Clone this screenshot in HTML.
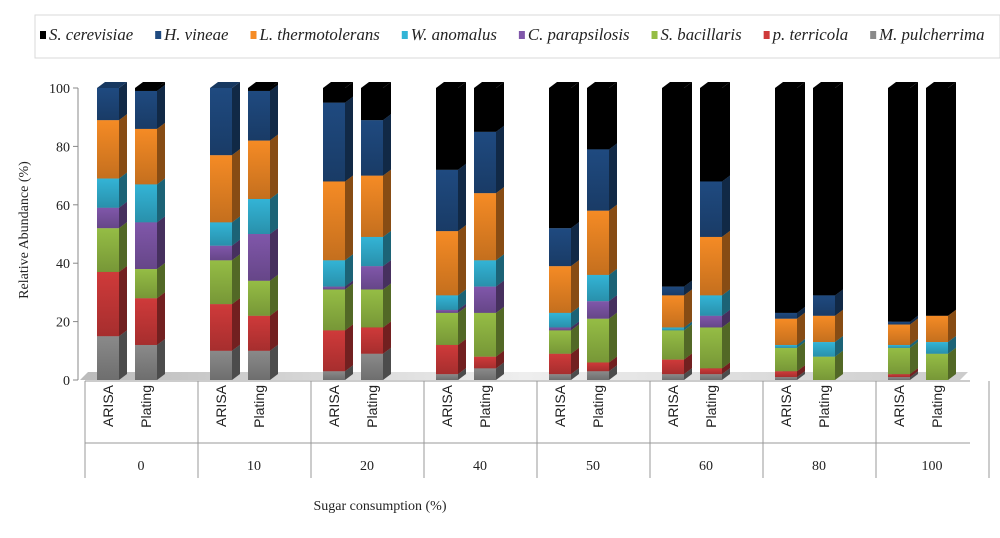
<!DOCTYPE html>
<html><head><meta charset="utf-8"><style>
body{margin:0;background:#fff;}
</style></head><body>
<svg id="c" width="1000" height="533" viewBox="0 0 1000 533" font-family="Liberation Serif, serif">
<defs>
<linearGradient id="floorG" x1="0" x2="1"><stop offset="0" stop-color="#bbb"/><stop offset="0.5" stop-color="#eee"/><stop offset="1" stop-color="#ccc"/></linearGradient>
</defs>
<rect x="35" y="15" width="965" height="43" fill="#fff" stroke="#d9d9d9"/>
<g id="legend"></g>
<g id="axis"></g>
<polygon points="80,380 88,372 968,372 960,380" fill="url(#floorG)"/>
<g id="bars"></g>
<g id="cats"></g>
<text x="28" y="230" transform="rotate(-90 28 230)" text-anchor="middle" font-size="14" fill="#222">Relative  Abundance  (%)</text>
<text x="380" y="510" text-anchor="middle" font-size="14" fill="#222">Sugar consumption  (%)</text>
</svg>
<script>
const groups=["0","10","20","40","50","60","80","100"];
const methods=["ARISA","Plating"];
const species=["M. pulcherrima","p. terricola","S. bacillaris","C. parapsilosis","W. anomalus","L. thermotolerans","H. vineae","S. cerevisiae"];
const legendOrder=["S. cerevisiae","H. vineae","L. thermotolerans","W. anomalus","C. parapsilosis","S. bacillaris","p. terricola","M. pulcherrima"];
// cumulative tops per bar (ARISA,Plating per group), bottom->top species
const cumMPul=[15,12,10,10,3,9,2,4,2,3,2,2,1,0,1,0];
const cumPTer=[37,28,26,22,17,18,12,8,9,6,7,4,3,0,2,0];
const cumSBac=[52,38,41,34,31,31,23,23,17,21,17,18,11,8,11,9];
const cumCPar=[59,54,46,50,32,39,24,32,18,27,17,22,11,8,11,9];
const cumWAno=[69,67,54,62,41,49,29,41,23,36,18,29,12,13,12,13];
const cumLThe=[89,86,77,82,68,70,51,64,39,58,29,49,21,22,19,22];
const cumHVin=[100,99,100,99,95,89,72,85,52,79,32,68,23,29,20,22];
const cumSCer=[100,100,100,100,100,100,100,100,100,100,100,100,100,100,100,100];
const cums=[cumMPul,cumPTer,cumSBac,cumCPar,cumWAno,cumLThe,cumHVin,cumSCer];
const yTicks=[0,20,40,60,80,100];
const colors={"M. pulcherrima":"#8a8a8a","p. terricola":"#cf3a3a","S. bacillaris":"#95bd45","C. parapsilosis":"#8057aa","W. anomalus":"#33b4d6","L. thermotolerans":"#f58b25","H. vineae":"#1f4a80","S. cerevisiae":"#000000"};
const NS="http://www.w3.org/2000/svg";
const svg=document.getElementById('c');
function el(t,a,p){const e=document.createElementNS(NS,t);for(const k in a)e.setAttribute(k,a[k]);p.appendChild(e);return e;}
function shade(h,f){const n=parseInt(h.slice(1),16);let r=n>>16,g=(n>>8)&255,b=n&255;return `rgb(${Math.round(r*f)},${Math.round(g*f)},${Math.round(b*f)})`;}
const y=v=>380-v*2.92;
const barX=i=>97+113*Math.floor(i/2)+(i%2)*38;
const W=22,DX=8,DY=-6;
const defs=svg.querySelector('defs');
species.forEach((s,k)=>{const g=el('linearGradient',{id:'g'+k,x1:0,x2:0,y1:0,y2:1},defs);
 el('stop',{offset:0,'stop-color':colors[s]},g);
 el('stop',{offset:1,'stop-color':shade(colors[s],0.8)},g);});
const ax=document.getElementById('axis');
el('line',{x1:78,y1:y(100),x2:78,y2:380,stroke:'#888'},ax);
yTicks.forEach(t=>{el('line',{x1:73,x2:78,y1:y(t),y2:y(t),stroke:'#888'},ax);
 const tx=el('text',{x:70,y:y(t)+5,'text-anchor':'end','font-size':14,fill:'#222'},ax);tx.textContent=t;
 
 });
const bg=document.getElementById('bars');
for(let i=0;i<16;i++){
 const x0=barX(i);let prev=0;
 const bar=el('g',{},bg);
 
 
 cums.forEach((arr,k)=>{const top=arr[i];if(top<=prev+0.01){return;}
  const c=colors[species[k]];const y0=y(prev),y1=y(top);
  const seg=el('g',{},bar);
  
  
  el('rect',{x:x0,y:y1,width:W,height:y0-y1,fill:'url(#g'+k+')'},seg);
  el('polygon',{points:`${x0+W},${y0} ${x0+W+DX},${y0+DY} ${x0+W+DX},${y1+DY} ${x0+W},${y1}`,fill:shade(c,0.55)},seg);
  el('polygon',{points:`${x0},${y1} ${x0+DX},${y1+DY} ${x0+W+DX},${y1+DY} ${x0+W},${y1}`,fill:shade(c,0.75)},seg);
  prev=top;});
}
const cg=document.getElementById('cats');
el('line',{x1:85,x2:970,y1:381,y2:381,stroke:'#999'},cg);
el('line',{x1:85,x2:970,y1:443,y2:443,stroke:'#999'},cg);
for(let g=0;g<=8;g++){el('line',{x1:85+113*g,x2:85+113*g,y1:381,y2:478,stroke:'#999'},cg);}
groups.forEach((gname,g)=>{
 const t=el('text',{x:85+113*g+56,y:470,'text-anchor':'middle','font-size':14,fill:'#222'},cg);t.textContent=gname;
 
 
 methods.forEach((m,j)=>{const cx=barX(g*2+j)+16;
  const mt=el('text',{x:cx,y:385,transform:`rotate(-90 ${cx} 385)`,'text-anchor':'end','font-size':14,fill:'#222',style:'font-family:"Liberation Sans",sans-serif'},cg);
  mt.textContent=m;
  
  });
});
const lg=document.getElementById('legend');
let lx=40;
legendOrder.forEach(s=>{
 const e=el('g',{},lg);
 
 
 el('rect',{x:lx,y:31,width:6,height:8,fill:colors[s]},e);
 const t=el('text',{x:lx+9,y:40,'font-size':15,'font-style':'italic',fill:'#222'},e);t.textContent=s;
 t.setAttribute('transform',`translate(${lx+9} 40) scale(1.12 1.12) translate(${-(lx+9)} -40)`);
 lx+=9+t.getComputedTextLength()*1.12+22;});
</script>
</body></html>
